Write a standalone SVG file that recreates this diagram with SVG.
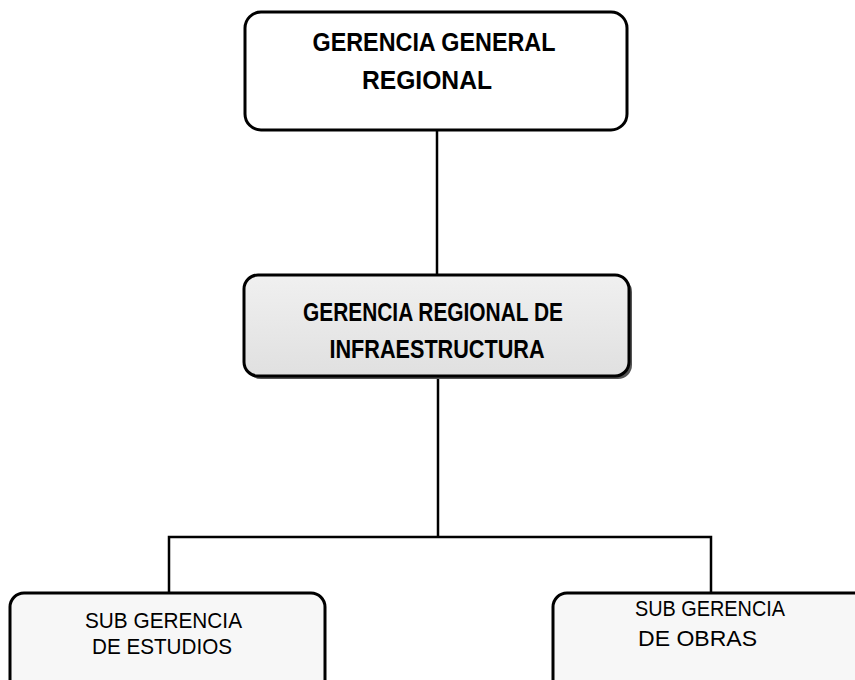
<svg xmlns="http://www.w3.org/2000/svg" width="855" height="680" viewBox="0 0 855 680">
  <style>
    .box { stroke: #000; stroke-width: 3; }
    .conn { stroke: #000; stroke-width: 2.5; fill: none; }
    .t { font-family: "Liberation Sans", Arial, sans-serif; fill: #000; }
    .b { font-weight: bold; font-size: 25px; }
    .n { font-size: 22px; }
  </style>
  <defs>
    <linearGradient id="g1" x1="0" y1="0" x2="0" y2="1">
      <stop offset="0" stop-color="#f0f0f0"/>
      <stop offset="1" stop-color="#e0e0e0"/>
    </linearGradient>
  </defs>
  <rect width="855" height="680" fill="#fff"/>
  <g id="connectors">
    <line class="conn" x1="437" y1="130" x2="437" y2="275"/>
    <line class="conn" x1="438" y1="378" x2="438" y2="537"/>
    <polyline class="conn" points="169,593 169,537 711,537 711,593"/>
  </g>
  <g id="n1">
    <rect class="box" x="245" y="12" width="382" height="118" rx="16" fill="#fff"/>
    <text class="t b" x="434" y="51" text-anchor="middle" textLength="243" lengthAdjust="spacingAndGlyphs">GERENCIA GENERAL</text>
    <text class="t b" x="427" y="89" text-anchor="middle" textLength="130" lengthAdjust="spacingAndGlyphs">REGIONAL</text>
  </g>
  <g id="n2">
    <rect x="247" y="278" width="385" height="101" rx="14" fill="#555"/>
    <rect class="box" x="244" y="275" width="385" height="101" rx="14" fill="url(#g1)"/>
    <text class="t b" x="433" y="321" text-anchor="middle" textLength="260" lengthAdjust="spacingAndGlyphs">GERENCIA REGIONAL DE</text>
    <text class="t b" x="437" y="358" text-anchor="middle" textLength="215" lengthAdjust="spacingAndGlyphs">INFRAESTRUCTURA</text>
  </g>
  <g id="n3">
    <rect class="box" x="10" y="593" width="315" height="110" rx="14" fill="#f7f7f7"/>
    <text class="t n" x="85" y="628" textLength="157" lengthAdjust="spacingAndGlyphs">SUB GERENCIA</text>
    <text class="t n" x="92" y="654" textLength="140" lengthAdjust="spacingAndGlyphs">DE ESTUDIOS</text>
  </g>
  <g id="n4">
    <rect class="box" x="553" y="593" width="320" height="110" rx="14" fill="#f7f7f7"/>
    <text class="t n" x="635" y="616" textLength="150" lengthAdjust="spacingAndGlyphs">SUB GERENCIA</text>
    <text class="t n" x="638" y="646" textLength="119" lengthAdjust="spacingAndGlyphs">DE OBRAS</text>
  </g>
</svg>
